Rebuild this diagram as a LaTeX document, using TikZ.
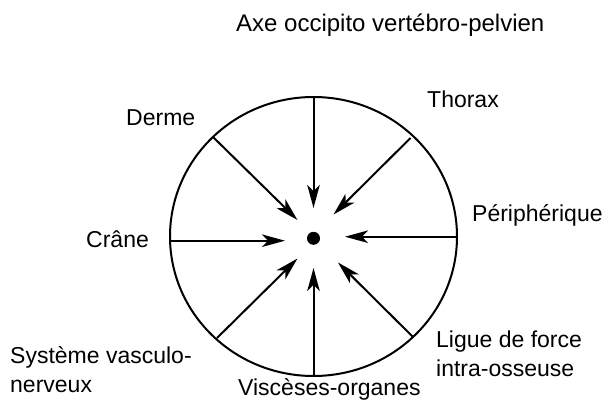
\documentclass[tikz,border=0pt]{standalone}
\usepackage{fontspec}
\setmainfont{Liberation Sans}
\usetikzlibrary{arrows.meta}
\begin{document}
\begin{tikzpicture}[x=1pt,y=-1pt,
  lbl/.style={inner sep=0pt, font=\fontsize{23}{29}\selectfont, anchor=base west},
  ray/.style={line width=2pt, -{Stealth[length=23pt,width=12.5pt,inset=6pt]}},
  rim/.style={line width=2pt}]
\useasboundingbox (0,0) rectangle (608,404);
% circle
\draw[rim] (313.5,236.5) ellipse [x radius=143.5, y radius=139.5];
\node[circle, fill=black, inner sep=0pt, minimum size=13pt] (dot) at (313.5,238.3) {};
% start points on rim
\coordinate (sT)  at (313.5,97);
\coordinate (sTR) at (410.5,138);
\coordinate (sR)  at (457,236.7);
\coordinate (sBR) at (413,337);
\coordinate (sB)  at (313.5,376);
\coordinate (sBL) at (217,338);
\coordinate (sL)  at (170,240.7);
\coordinate (sTL) at (213,137);
% tips
\coordinate (eT)  at (313.5,208);
\coordinate (eTR) at (333.5,214.5);
\coordinate (eR)  at (345,236.7);
\coordinate (eBR) at (338,262.5);
\coordinate (eB)  at (313.5,268);
\coordinate (eBL) at (297.5,258.5);
\coordinate (eL)  at (285,240.7);
\coordinate (eTL) at (297.5,220);
\foreach \p in {T,TR,R,BR,B,BL,L,TL}{\draw[ray] (s\p) -- (e\p);}
% labels
\node[lbl, font=\fontsize{24}{29}\selectfont] (axe) at (236,32) {Axe occipito vertébro-pelvien};
\node[lbl] (thorax) at (427,107) {Thorax};
\node[lbl] (derme) at (126,125) {Derme};
\node[lbl] (crane) at (86,247) {Crâne};
\node[lbl] (peri) at (472,221) {Périphérique};
\node[lbl, align=left] (ligue) at (436,376) {Ligue de force\\intra-osseuse};
\node[lbl, align=left] (sys) at (10,392) {Système vasculo-\\nerveux};
\node[lbl] (visc) at (238,395) {Viscèses-organes};
\end{tikzpicture}
\end{document}
